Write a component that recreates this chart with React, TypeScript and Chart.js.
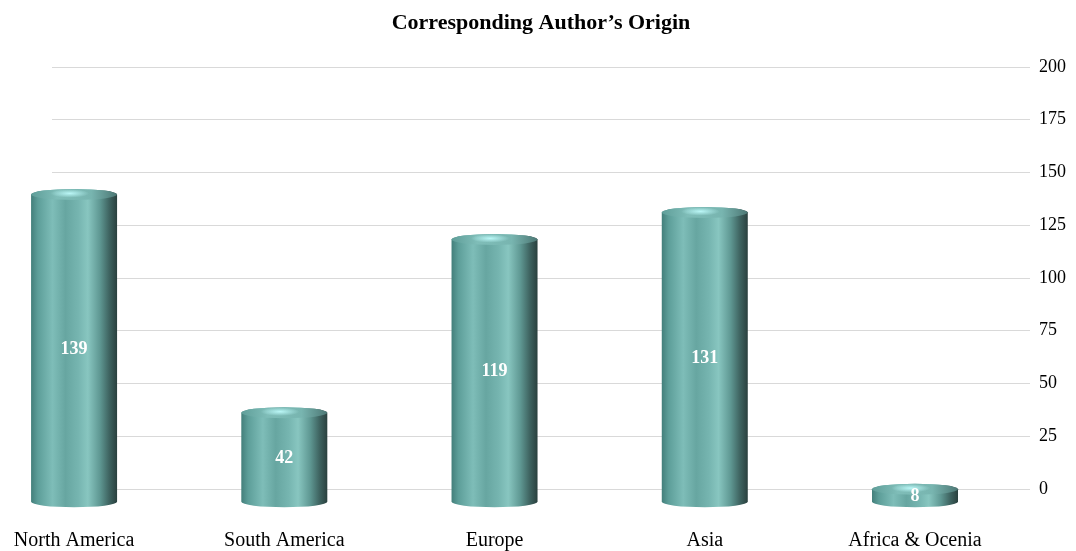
import React, { useEffect, useRef } from "react";
import { Chart, registerables } from "chart.js";

Chart.register(...registerables);

const categories = ["North America", "South America", "Europe", "Asia", "Africa & Ocenia"];
const authorCounts = [139, 42, 119, 131, 8];
const chartTitle = "Corresponding Author\u2019s Origin";

const FONT = "'Liberation Serif', 'Times New Roman', serif";

const cylinderPlugin = {
  id: "cylinders",
  afterDatasetsDraw(chart: any) {
    const meta = chart.getDatasetMeta(0);
    const ys = chart.scales.y2;
    const ctx = chart.ctx as CanvasRenderingContext2D;
    meta.data.forEach((el: any, i: number) => {
      const { x, width } = el.getProps(["x", "width"], true);
      const v = chart.data.datasets[0].data[i].y;
      const rx = width / 2;
      const ry = 5.5;
      const topC = ys.getPixelForValue(v) + ry;
      const botC = ys.getPixelForValue(0);
      ctx.save();
      const g = ctx.createLinearGradient(x - rx, 0, x + rx, 0);
      g.addColorStop(0, "#437f7b");
      g.addColorStop(0.08, "#5d9e99");
      g.addColorStop(0.25, "#7ebdb8");
      g.addColorStop(0.4, "#67a6a1");
      g.addColorStop(0.55, "#76b5b0");
      g.addColorStop(0.66, "#88c6c0");
      g.addColorStop(0.8, "#5f9893");
      g.addColorStop(0.91, "#3e6360");
      g.addColorStop(1, "#2a403e");
      ctx.beginPath();
      ctx.moveTo(x - rx, topC);
      ctx.lineTo(x - rx, botC);
      ctx.ellipse(x, botC, rx, ry, 0, Math.PI, 0, true);
      ctx.lineTo(x + rx, topC);
      ctx.ellipse(x, topC, rx, ry, 0, 0, Math.PI, true);
      ctx.closePath();
      ctx.fillStyle = g;
      ctx.fill();
      const tg = ctx.createLinearGradient(x - rx, 0, x + rx, 0);
      tg.addColorStop(0, "#5f9e99");
      tg.addColorStop(0.3, "#7fbdb8");
      tg.addColorStop(0.7, "#78b5b0");
      tg.addColorStop(1, "#4c7774");
      ctx.beginPath();
      ctx.ellipse(x, topC, rx, ry, 0, 0, Math.PI * 2);
      ctx.fillStyle = tg;
      ctx.fill();
      ctx.save();
      ctx.beginPath();
      ctx.ellipse(x, topC, rx, ry, 0, 0, Math.PI * 2);
      ctx.clip();
      ctx.translate(x - rx * 0.1, topC - ry * 0.2);
      ctx.scale(1, 0.22);
      const rg = ctx.createRadialGradient(0, 0, 0, 0, 0, rx * 0.45);
      rg.addColorStop(0, "rgba(190,250,250,0.95)");
      rg.addColorStop(1, "rgba(190,250,250,0)");
      ctx.fillStyle = rg;
      ctx.beginPath();
      ctx.arc(0, 0, rx * 0.45, 0, Math.PI * 2);
      ctx.fill();
      ctx.restore();
      ctx.fillStyle = "#ffffff";
      ctx.font = `bold 18px ${FONT}`;
      ctx.textAlign = "center";
      ctx.textBaseline = "middle";
      ctx.fillText(String(v), x, (topC + botC) / 2 + 1);
      ctx.restore();
    });
  },
};

export default function App() {
  const ref = useRef<HTMLCanvasElement | null>(null);
  useEffect(() => {
    document.body.style.margin = "0";
    const canvas = ref.current!;
    const chart = new Chart(canvas, {
      type: "bar",
      data: {
        labels: categories,
        datasets: [
          {
            data: authorCounts.map((v, i) => ({ x: i, y: v })) as any,
            yAxisID: "y2",
            backgroundColor: "rgba(0,0,0,0)",
            borderWidth: 0,
            barThickness: 86,
            clip: false as any,
          },
        ],
      },
      options: {
        animation: false,
        responsive: false,
        devicePixelRatio: 1,
        layout: { padding: { left: 52, right: 0, top: 0, bottom: 0 } },
        plugins: {
          legend: { display: false },
          tooltip: { enabled: false },
          title: {
            display: true,
            text: chartTitle,
            fullSize: false,
            color: "#000",
            font: { family: FONT, size: 22, weight: "bold", lineHeight: 1.2 },
            padding: { top: 10, bottom: 30.6 },
          },
        },
        scales: {
          x: {
            type: "linear",
            offset: false,
            min: -0.105,
            max: 4.547,
            grid: { display: false, drawTicks: false, offset: false },
            border: { display: false },
            afterBuildTicks: (axis: any) => {
              axis.ticks = categories.map((_, i) => ({ value: i }));
            },
            afterFit: (axis: any) => {
              axis.height = 62;
              axis.paddingLeft = 0;
              axis.paddingRight = 0;
            },
            ticks: {
              autoSkip: false,
              maxRotation: 0,
              minRotation: 0,
              padding: 40,
              color: "#000",
              font: { family: FONT, size: 20, lineHeight: 1.2 },
              callback: (value: any) => categories[value] ?? "",
            },
          },
          y: {
            position: "right",
            min: 0,
            max: 200,
            grid: { color: "#d9d9d9", lineWidth: 1, drawTicks: false },
            border: { display: false },
            afterFit: (axis: any) => {
              axis.width = 46;
              axis.paddingTop = 0;
              axis.paddingBottom = 0;
            },
            ticks: {
              stepSize: 25,
              padding: 9,
              color: "#000",
              font: { family: FONT, size: 18, lineHeight: 1.2 },
            },
          },
          y2: {
            display: false,
            min: 5.667,
            max: 193.22,
          },
        },
      } as any,
      plugins: [cylinderPlugin],
    });
    return () => chart.destroy();
  }, []);
  return (
    <div style={{ width: 1076, height: 551, background: "#fff" }}>
      <canvas ref={ref} width={1076} height={551} />
    </div>
  );
}
